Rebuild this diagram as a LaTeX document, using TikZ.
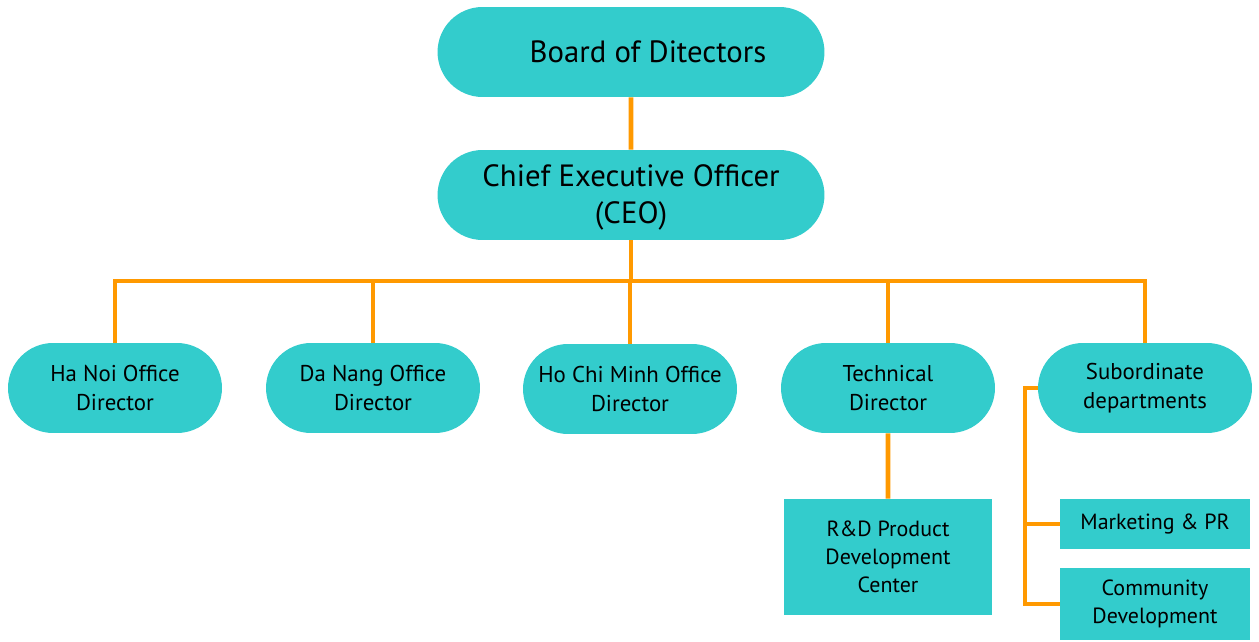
\documentclass[tikz,border=0pt]{standalone}
\usepackage{fontspec}
\setmainfont{PT Sans}
\usetikzlibrary{shapes.misc}
\definecolor{teal}{RGB}{51,204,204}
\definecolor{amber}{RGB}{255,153,0}
\begin{document}
\begin{tikzpicture}[x=0.02cm, y=-0.02cm,
  pill/.style={rounded rectangle, fill=teal, inner sep=0pt, align=center,
    minimum width=4.28cm, minimum height=1.8cm, font=\fontsize{13}{16.5}\selectfont},
  bigpill/.style={pill, minimum width=7.74cm, font=\fontsize{17.5}{21}\selectfont},
  unit/.style={rectangle, fill=teal, inner sep=0pt, align=center, minimum width=3.8cm,
    font=\fontsize{12.5}{16}\selectfont},
  link/.style={draw=amber, line width=2.6pt}]

  \useasboundingbox (0, 0) rectangle (1259, 642);

  \node[bigpill] (board) at (631, 52) {\hspace*{1.1em}Board of Ditectors};
  \node[bigpill] (ceo) at (631, 195) {\\[-6pt]Chief Executive Officer\\(CEO)};

  \node[pill] (hanoi) at (115, 388) {Ha Noi Office\\Director};
  \node[pill] (danang) at (373, 388) {Da Nang Office\\Director};
  \node[pill] (hcm) at (630, 389) {Ho Chi Minh Office\\Director};
  \node[pill] (tech) at (888, 388) {Technical\\Director};
  \node[pill] (sub) at (1145, 388) {Subordinate\\departments};

  \node[unit, minimum width=4.18cm, minimum height=2.32cm] (rnd) at (888, 557) {R\&D Product\\Development\\Center};
  \node[unit, minimum height=1.02cm] (mkt) at (1155, 524) {Marketing \& PR};
  \node[unit, minimum height=1.44cm] (comm) at (1155, 604) {Community\\Development};

  \coordinate (bus) at (0, 281);
  \coordinate (spine) at (1025, 0);

  \draw[link] (board) -- (ceo);
  \draw[link] (ceo.south) -- (ceo.south |- bus);
  \draw[link] (hanoi.north) -- (hanoi.north |- bus) -- (sub.north |- bus) -- (sub.north);
  \draw[link] (danang.north) -- (danang.north |- bus);
  \draw[link] (hcm.north) -- (hcm.north |- bus);
  \draw[link] (tech.north) -- (tech.north |- bus);
  \draw[link] (tech) -- (rnd);
  \draw[link] (sub.west) -- (spine |- sub.west) -- (spine |- comm.west) -- (comm.west);
  \draw[link] (spine |- mkt.west) -- (mkt.west);
\end{tikzpicture}
\end{document}
